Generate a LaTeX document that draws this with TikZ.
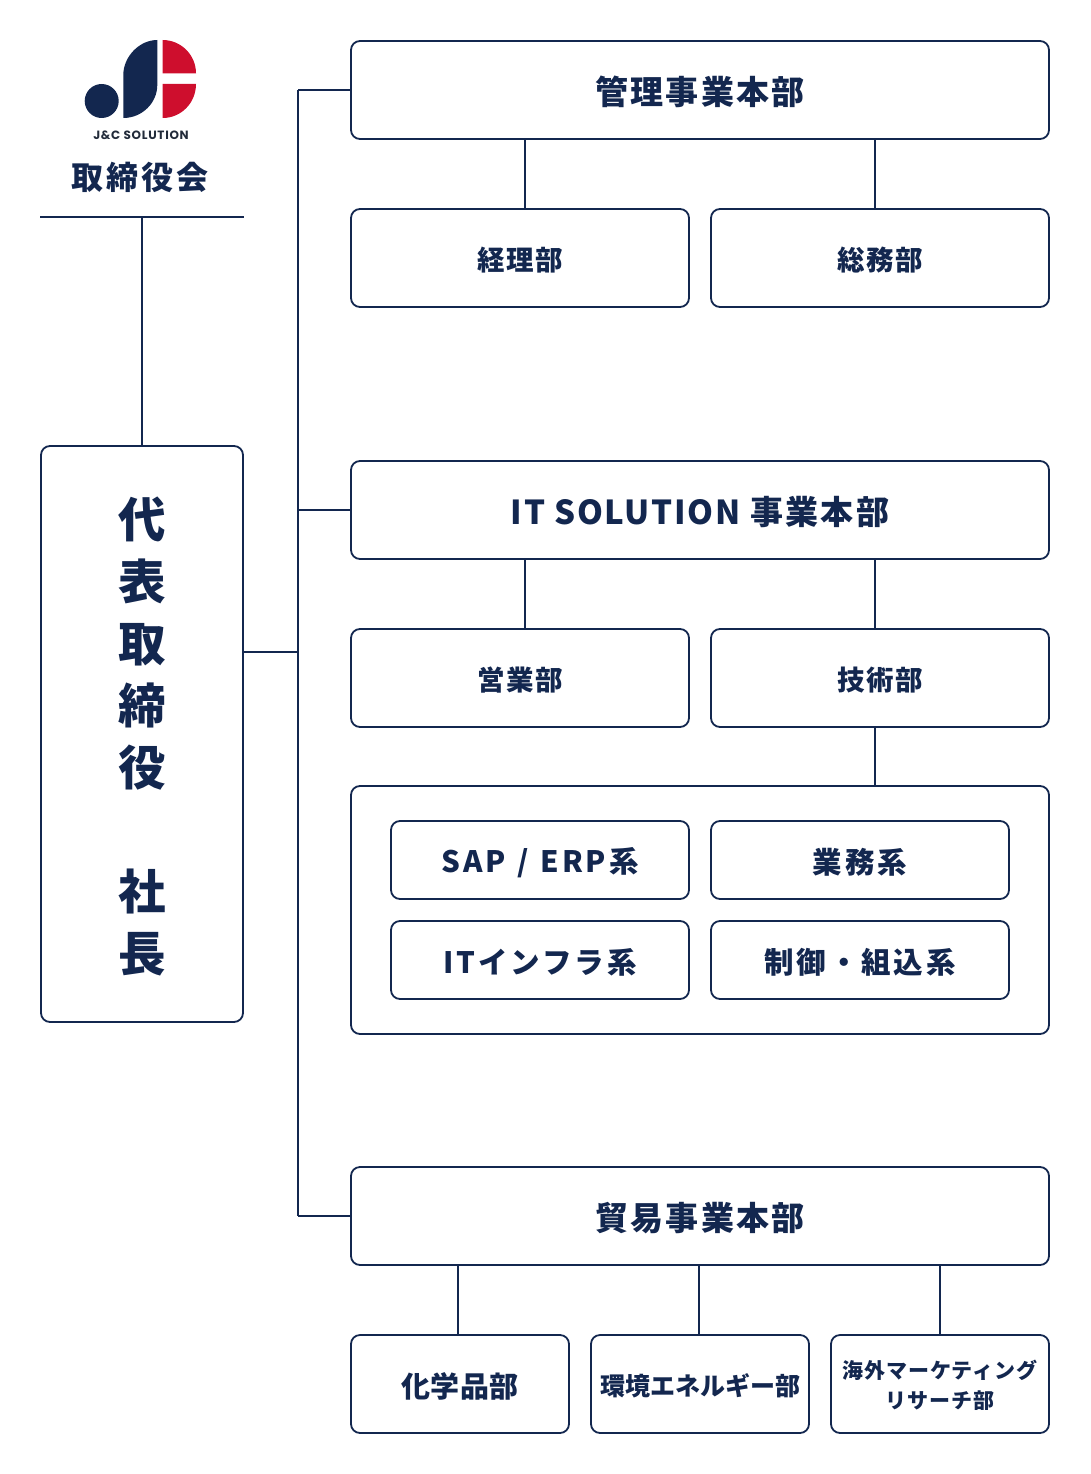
\documentclass[tikz,border=0pt]{standalone}
\usepackage{fontspec}
\setmainfont{Noto Sans CJK JP}
\newfontfamily\logofont{Poppins}
\usetikzlibrary{positioning}
\definecolor{navy}{HTML}{13274F}
\definecolor{logored}{HTML}{CE0E2D}
\definecolor{logotextcol}{HTML}{222B3A}
\newcommand{\toppad}[1]{\rule{0pt}{\dimexpr.88em+#1\relax}}
\tikzset{
  org/.style={draw=navy, line width=1.8pt, rounded corners=9pt, inner sep=0pt, text=navy, align=center, font=\bfseries,
    execute at begin node={\toppad{4pt}}, execute at end node={\rule[-.12em]{0pt}{0pt}}},
  honbu/.style={org, minimum width=698pt, minimum height=98pt, font=\fontsize{33}{38}\selectfont\bfseries\addfontfeature{LetterSpace=7}},
  bu/.style={org, minimum width=338pt, minimum height=98pt, font=\fontsize{27.5}{32}\selectfont\bfseries\addfontfeature{LetterSpace=5}},
  ka/.style={org, minimum width=298pt, minimum height=78pt, font=\fontsize{29.5}{34}\selectfont\bfseries\addfontfeature{LetterSpace=10}},
  sub/.style={org, minimum width=218pt, minimum height=98pt},
  line/.style={draw=navy, line width=1.8pt}
}
\begin{document}
\begin{tikzpicture}[x=1pt, y=-1pt]
\useasboundingbox (0,0) rectangle (1090,1474);

% logo
\fill[navy] (101.7,101) circle (17pt);
\fill[navy] (157.3,40) .. controls (139,40) and (123.3,57) .. (123.3,75) -- (123.3,118)
  .. controls (142,118) and (157.3,103) .. (157.3,85) -- cycle;
\fill[logored] (162.7,40) .. controls (181,40) and (196,55) .. (196,73.3) -- (162.7,73.3) -- cycle;
\fill[logored] (162.7,84) -- (196,84) .. controls (196,103) and (181,118) .. (162.7,118) -- cycle;
\node[text=logotextcol, font=\logofont\fontsize{12}{14}\selectfont\bfseries\addfontfeature{LetterSpace=6}] (logotext) at (141,135) {J\&C SOLUTION};

% left column
\node[text=navy, font=\fontsize{32}{36}\selectfont\bfseries\addfontfeature{LetterSpace=10}] (board) at (140,177) {取締役会};
\coordinate (boardl) at (40,217);
\coordinate (boardr) at (244,217);
\coordinate (boardc) at (142,217);
\node[org, minimum width=202pt, minimum height=576pt, font=\fontsize{47.5}{62}\selectfont\bfseries] (president) at (142,734) {\toppad{4pt}代\\表\\取\\締\\役\\\mbox{}\\社\\長};

% first division
\node[honbu] (kanri) at (700,90) {管理事業本部};
\node[bu] (keiri) at (520,258) {経理部};
\node[bu] (soumu) at (880,258) {総務部};

% second division
\node[honbu] (it) at (700,510) {{\addfontfeature{LetterSpace=5}IT SOLUTION} 事業本部};
\node[bu] (eigyo) at (520,678) {営業部};
\node[bu] (gijutsu) at (880,678) {技術部};
\node[org, minimum width=698pt, minimum height=248pt] (group) at (700,910) {};
\node[ka] (sap) at (540,860) {SAP\hspace{2pt} / \hspace{2pt}ERP系};
\node[ka] (gyomu) at (860,860) {業務系};
\node[ka] (infra) at (540,960) {ITインフラ系};
\node[ka] (seigyo) at (860,960) {制御・組込系};

% third division
\node[honbu] (boeki) at (700,1216) {貿易事業本部};
\node[sub, font=\fontsize{29}{34}\selectfont\bfseries\addfontfeature{LetterSpace=2}] (kagaku) at (460,1384) {化学品部};
\node[sub, font=\fontsize{25}{30}\selectfont\bfseries] (kankyo) at (700,1384) {環境エネルギー部};
\node[sub, font=\fontsize{21}{30}\selectfont\bfseries\addfontfeature{LetterSpace=4}] (kaigai) at (940,1384) {\toppad{4pt}海外マーケティング\\リサーチ部};

% trunk
\coordinate (trunk) at (298,652);
\draw[line] (boardl) -- (boardr);
\draw[line] (boardc) -- (president.north);
\draw[line] (president.east |- trunk) -- (trunk);
\draw[line] (trunk |- kanri.west) -- (trunk |- boeki.west);
\foreach \n in {kanri,it,boeki} \draw[line] (trunk |- \n.west) -- (\n.west);

% branches
\draw[line] ([xshift=-175pt]kanri.south) -- ([xshift=5pt]keiri.north);
\draw[line] ([xshift=175pt]kanri.south) -- ([xshift=-5pt]soumu.north);
\draw[line] ([xshift=-175pt]it.south) -- ([xshift=5pt]eigyo.north);
\draw[line] ([xshift=175pt]it.south) -- ([xshift=-5pt]gijutsu.north);
\draw[line] ([xshift=-5pt]gijutsu.south) -- ([xshift=175pt]group.north);
\draw[line] ([xshift=-242pt]boeki.south) -- ([xshift=-2pt]kagaku.north);
\draw[line] ([xshift=-1pt]boeki.south) -- ([xshift=-1pt]kankyo.north);
\draw[line] ([xshift=240pt]boeki.south) -- (kaigai.north);
\end{tikzpicture}
\end{document}
